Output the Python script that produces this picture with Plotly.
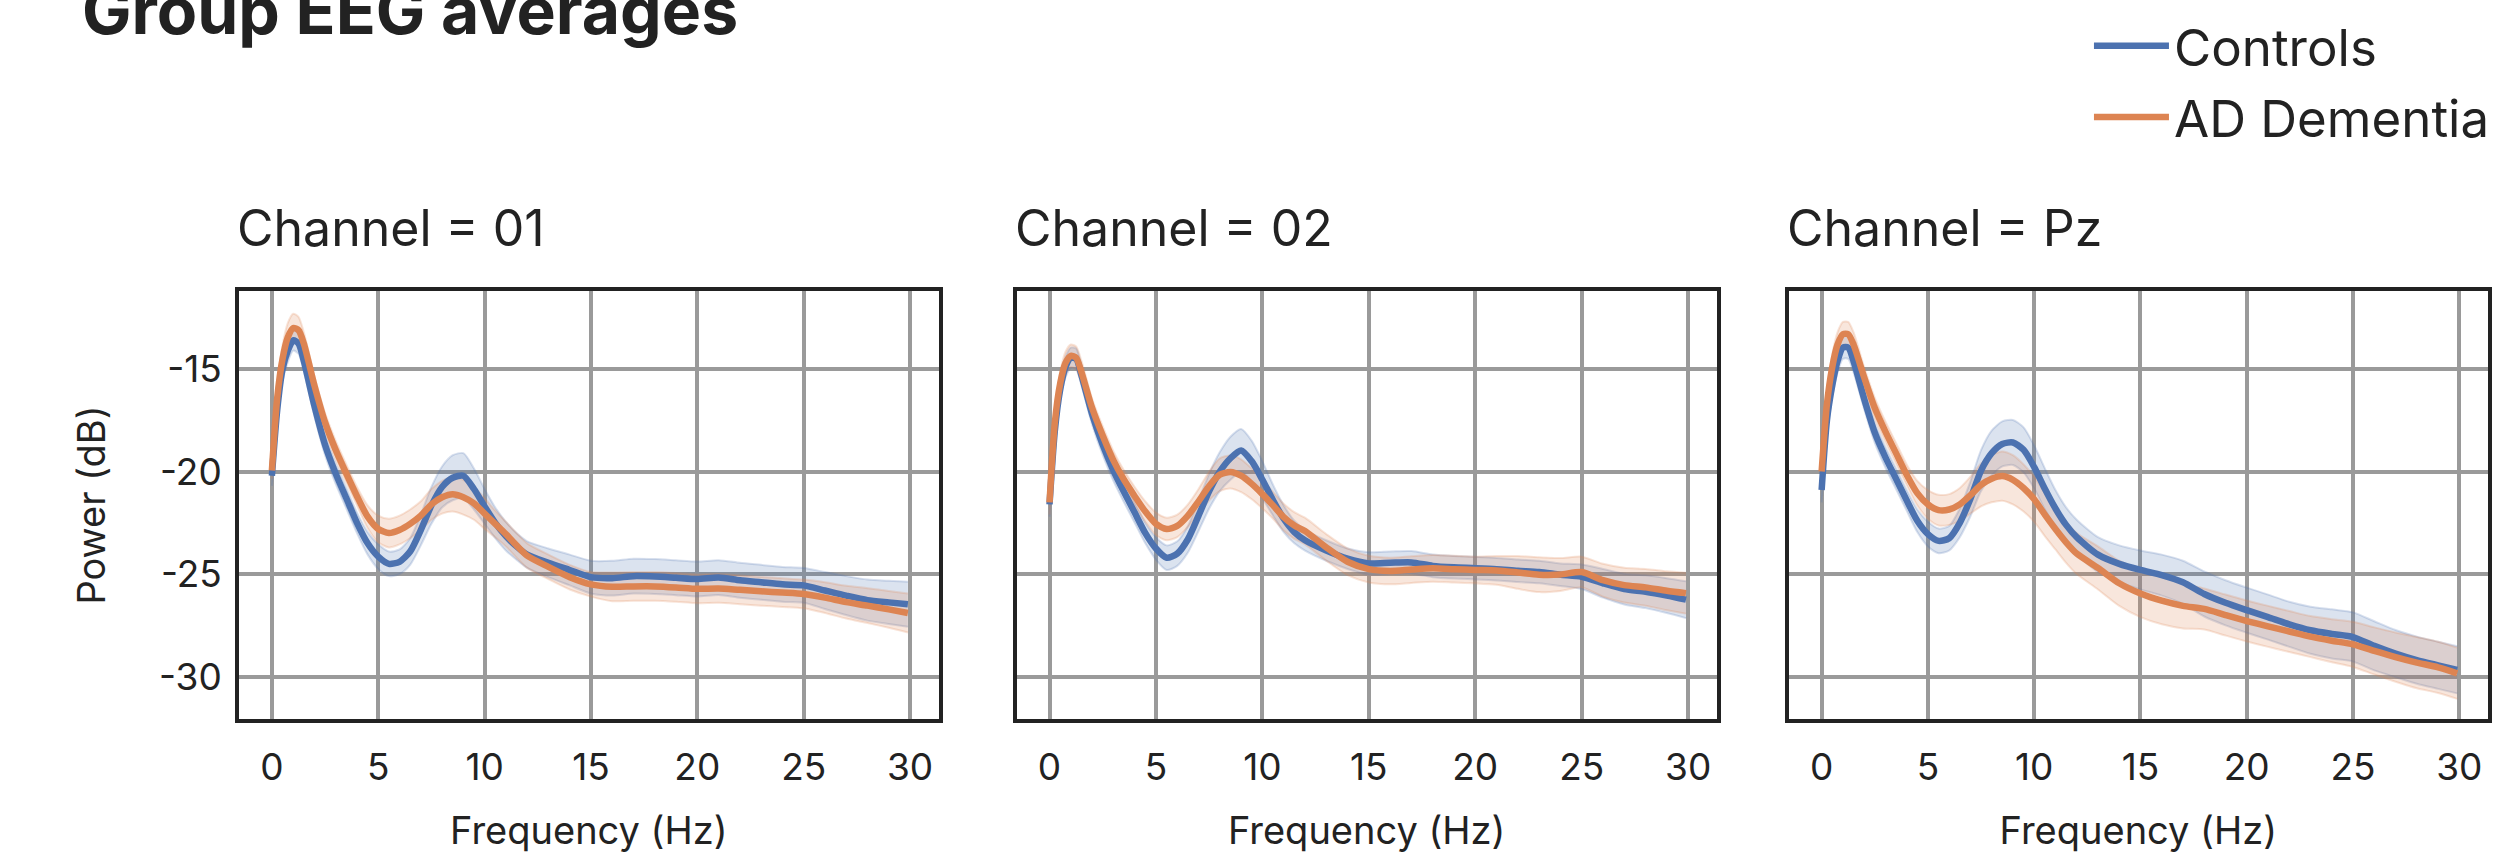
import plotly.graph_objects as go

# ---------------- data ----------------
FREQ = [0, 0.25, 0.5, 0.75, 1.0, 1.25, 1.5,
        2, 2.5, 3, 3.5, 4, 4.5, 5, 5.5, 6, 6.5, 7, 7.5, 8, 8.5, 9, 9.5, 10, 10.5, 11, 11.5, 12,
        13, 14, 15, 16, 17, 18, 19, 20, 21, 22, 23, 24, 25, 26, 27, 28, 29,
        29.9]

CHANNELS = ["01", "02", "Pz"]
GROUPS = ["Controls", "AD Dementia"]
X_TICKS = [0, 5, 10, 15, 20, 25, 30]
X_TICK_LABELS = ["0", "5", "10", "15", "20", "25", "30"]
Y_TICKS = [-30, -25, -20, -15]
Y_TICK_LABELS = ["-30", "-25", "-20", "-15"]

# Channel 01
CTRL_01 = [-20.2, -17.0, -15.0, -14.1, -13.6, -13.75, -14.6,
           -16.8, -18.7, -20.1, -21.3, -22.5, -23.5, -24.15, -24.5, -24.4, -23.9, -22.85, -21.65, -20.75, -20.3, -20.2, -20.85, -21.7, -22.5, -23.15, -23.65, -24.05,
           -24.45, -24.8, -25.15, -25.2, -25.1, -25.12, -25.18, -25.24, -25.17, -25.3, -25.4, -25.5, -25.55, -25.8, -26.05, -26.27, -26.38,
           -26.47]
CTRL_01_CI = [0.5, 0.6, 0.6, 0.55, 0.5, 0.5, 0.5,
              0.5, 0.5, 0.5, 0.5, 0.5, 0.55, 0.6, 0.6, 0.6, 0.65, 0.75, 0.9, 1.0, 1.1, 1.1, 1.0, 0.85, 0.75, 0.7, 0.65, 0.65,
              0.7, 0.75, 0.8, 0.85, 0.85, 0.85, 0.85, 0.85, 0.85, 0.85, 0.85, 0.85, 0.85, 0.9, 0.95, 1.0, 1.05,
              1.1]
AD_01 = [-19.95, -16.4, -14.5, -13.45, -13.0, -13.1, -13.75,
         -15.8, -17.6, -18.95, -20.1, -21.2, -22.2, -22.8, -23.0, -22.85, -22.55, -22.15, -21.6, -21.25, -21.1, -21.25, -21.55, -22.05, -22.55, -23.05, -23.6, -24.1,
         -24.65, -25.15, -25.5, -25.62, -25.6, -25.6, -25.65, -25.72, -25.7, -25.77, -25.84, -25.9, -25.97, -26.15, -26.37, -26.54, -26.72,
         -26.9]
AD_01_CI = [0.4, 0.6, 0.65, 0.7, 0.7, 0.65, 0.55,
            0.45, 0.45, 0.45, 0.45, 0.45, 0.55, 0.65, 0.7, 0.7, 0.7, 0.7, 0.75, 0.8, 0.85, 0.85, 0.8, 0.75, 0.65, 0.6, 0.6, 0.6,
            0.6, 0.6, 0.6, 0.7, 0.7, 0.7, 0.7, 0.7, 0.7, 0.7, 0.7, 0.7, 0.7, 0.75, 0.8, 0.85, 0.9,
            0.95]

# Channel 02
CTRL_02 = [-21.6, -18.0, -16.0, -14.9, -14.45, -14.5, -15.3,
           -17.2, -18.7, -19.95, -21.0, -22.0, -23.0, -23.75, -24.2, -24.0, -23.3, -22.15, -20.95, -20.0, -19.35, -18.97, -19.5, -20.4, -21.4, -22.3, -22.95, -23.35,
           -23.85, -24.25, -24.48, -24.45, -24.43, -24.6, -24.67, -24.71, -24.76, -24.84, -24.9, -25.03, -25.13, -25.45, -25.73, -25.86, -26.05,
           -26.25]
CTRL_02_CI = [0.6, 0.6, 0.5, 0.5, 0.5, 0.5, 0.5,
              0.5, 0.5, 0.5, 0.5, 0.5, 0.5, 0.55, 0.6, 0.6, 0.65, 0.75, 0.85, 0.95, 1.05, 1.05, 1.0, 0.9, 0.75, 0.65, 0.55, 0.5,
              0.5, 0.5, 0.55, 0.55, 0.55, 0.55, 0.55, 0.55, 0.55, 0.55, 0.55, 0.55, 0.6, 0.7, 0.75, 0.8, 0.85,
              0.9]
AD_02 = [-21.5, -17.6, -15.7, -14.7, -14.35, -14.45, -15.15,
         -16.9, -18.25, -19.45, -20.4, -21.2, -21.95, -22.55, -22.8, -22.65, -22.15, -21.45, -20.7, -20.15, -20.02, -20.2, -20.6, -21.1, -21.65, -22.22, -22.63, -22.9,
         -23.7, -24.4, -24.76, -24.85, -24.78, -24.72, -24.76, -24.8, -24.82, -24.92, -25.03, -25.02, -24.9, -25.3, -25.54, -25.65, -25.81,
         -25.93]
AD_02_CI = [0.6, 0.55, 0.55, 0.55, 0.55, 0.55, 0.55,
            0.45, 0.45, 0.45, 0.45, 0.45, 0.5, 0.55, 0.55, 0.55, 0.55, 0.6, 0.7, 0.8, 0.8, 0.8, 0.75, 0.7, 0.65, 0.65, 0.65, 0.65,
            0.65, 0.65, 0.65, 0.65, 0.65, 0.65, 0.65, 0.65, 0.7, 0.8, 0.85, 0.8, 0.75, 0.8, 0.85, 0.9, 0.95,
            1.0]

# Channel Pz
CTRL_PZ = [-20.9, -17.5, -15.8, -14.6, -13.95, -13.95, -14.6,
           -16.45, -18.1, -19.3, -20.35, -21.4, -22.4, -23.05, -23.38, -23.25, -22.5, -21.33, -19.95, -19.1, -18.65, -18.58, -18.94, -19.78, -20.84, -21.8, -22.6, -23.2,
           -24.05, -24.5, -24.8, -25.05, -25.4, -25.97, -26.4, -26.76, -27.1, -27.45, -27.74, -27.92, -28.07, -28.5, -28.88, -29.2, -29.45,
           -29.67]
CTRL_PZ_CI = [0.6, 0.55, 0.55, 0.55, 0.55, 0.55, 0.55,
              0.5, 0.5, 0.5, 0.5, 0.5, 0.55, 0.6, 0.6, 0.6, 0.7, 0.85, 1.0, 1.1, 1.1, 1.1, 1.1, 1.05, 1.0, 0.9, 0.85, 0.85,
              0.85, 0.9, 0.95, 1.0, 1.05, 1.1, 1.1, 1.1, 1.1, 1.1, 1.15, 1.2, 1.2, 1.2, 1.15, 1.15, 1.15,
              1.15]
AD_PZ = [-20.0, -16.7, -14.9, -13.8, -13.3, -13.3, -13.8,
         -15.4, -16.9, -18.05, -19.1, -20.15, -21.05, -21.6, -21.88, -21.85, -21.6, -21.15, -20.65, -20.35, -20.22, -20.4, -20.8, -21.35, -22.1, -22.8, -23.45, -24.0,
         -24.7, -25.45, -25.95, -26.3, -26.55, -26.7, -27.0, -27.29, -27.55, -27.8, -28.05, -28.25, -28.43, -28.75, -29.05, -29.32, -29.55,
         -29.84]
AD_PZ_CI = [0.5, 0.6, 0.6, 0.6, 0.6, 0.6, 0.6,
            0.5, 0.5, 0.5, 0.5, 0.5, 0.6, 0.7, 0.75, 0.75, 0.8, 0.9, 1.05, 1.15, 1.2, 1.2, 1.15, 1.1, 1.05, 1.0, 1.0, 1.0,
            1.05, 1.1, 1.15, 1.15, 1.1, 1.0, 1.0, 1.0, 1.0, 1.0, 1.0, 1.05, 1.1, 1.15, 1.2, 1.25, 1.25,
            1.25]

CTRL_SERIES = [CTRL_01, CTRL_02, CTRL_PZ]
CTRL_CI = [CTRL_01_CI, CTRL_02_CI, CTRL_PZ_CI]
AD_SERIES = [AD_01, AD_02, AD_PZ]
AD_CI = [AD_01_CI, AD_02_CI, AD_PZ_CI]

# ---------------- style ----------------
FONT = "Inter, Lato, sans-serif"
TEXT = "#222222"
COLORS = ["#4C72B0", "#DD8452"]
FILLS = ["rgba(76,114,176,0.2)", "rgba(221,132,82,0.2)"]
EDGES = ["rgba(76,114,176,0.22)", "rgba(221,132,82,0.22)"]
GRID = "#9a9a9a"
W, H = 2495, 866
X_DOMAINS = [(239.5, 941), (1019, 1721), (1793, 2494)]
Y_DOMAIN = (1 - 719 / H, 1 - 291 / H)
SPL = dict(shape="spline", smoothing=0.7)

fig = go.Figure()

for i in range(3):
    sfx = "" if i == 0 else str(i + 1)
    xa, ya = "x" + sfx, "y" + sfx
    groups = [(CTRL_SERIES[i], CTRL_CI[i]), (AD_SERIES[i], AD_CI[i])]
    # confidence bands
    for g, (mean, ci) in enumerate(groups):
        upper = [m + c for m, c in zip(mean, ci)]
        lower = [m - c for m, c in zip(mean, ci)]
        fig.add_trace(go.Scatter(x=FREQ, y=upper, xaxis=xa, yaxis=ya, mode="lines",
                                 line=dict(color=EDGES[g], width=2, **SPL),
                                 hoverinfo="skip", showlegend=False))
        fig.add_trace(go.Scatter(x=FREQ, y=lower, xaxis=xa, yaxis=ya, mode="lines",
                                 line=dict(color=EDGES[g], width=2, **SPL),
                                 fill="tonexty", fillcolor=FILLS[g],
                                 hoverinfo="skip", showlegend=False))
    # mean lines
    for g, (mean, ci) in enumerate(groups):
        fig.add_trace(go.Scatter(x=FREQ, y=mean, xaxis=xa, yaxis=ya, mode="lines",
                                 name=GROUPS[g], legendgroup=GROUPS[g],
                                 line=dict(color=COLORS[g], width=6.5, **SPL),
                                 showlegend=(i == 0)))

layout_axes = {}
for i in range(3):
    sfx = "" if i == 0 else str(i + 1)
    x0, x1 = X_DOMAINS[i]
    layout_axes["xaxis" + sfx] = dict(
        domain=[x0 / W, x1 / W], anchor="y" + sfx, range=[-1.55, 31.35],
        tickvals=X_TICKS, ticktext=X_TICK_LABELS, ticks="", ticklabelstandoff=13,
        tickfont=dict(family=FONT, size=37, color=TEXT),
        showgrid=True, gridcolor=GRID, gridwidth=3.5, zeroline=False,
        showline=True, linecolor=TEXT, linewidth=3.5, mirror=True,
        title=dict(text="Frequency (Hz)", font=dict(family=FONT, size=38, color=TEXT), standoff=30),
    )
    layout_axes["yaxis" + sfx] = dict(
        domain=list(Y_DOMAIN), anchor="x" + sfx, range=[-32.07, -11.19],
        tickvals=Y_TICKS, ticktext=Y_TICK_LABELS, ticks="", ticklabelstandoff=6,
        showticklabels=(i == 0),
        tickfont=dict(family=FONT, size=37, color=TEXT),
        showgrid=True, gridcolor=GRID, gridwidth=3.5, zeroline=False,
        showline=True, linecolor=TEXT, linewidth=3.5, mirror=True,
        title=dict(text="Power (dB)" if i == 0 else "", font=dict(family=FONT, size=38, color=TEXT), standoff=43),
    )

annotations = [dict(text="<b>Group EEG averages</b>", x=80 / W, y=1 - 10 / H, xref="paper", yref="paper",
                    xanchor="left", yanchor="middle", showarrow=False,
                    font=dict(family=FONT, size=66, color=TEXT))]
for i, ch in enumerate(CHANNELS):
    annotations.append(dict(text=f"Channel = {ch}", x=(X_DOMAINS[i][0] - 4) / W, y=1 - 228 / H,
                            xref="paper", yref="paper", xanchor="left", yanchor="middle",
                            showarrow=False, font=dict(family=FONT, size=50, color=TEXT)))

fig.update_layout(
    width=W, height=H, margin=dict(l=0, r=0, t=0, b=0),
    paper_bgcolor="white", plot_bgcolor="white",
    font=dict(family=FONT, color=TEXT),
    showlegend=True,
    legend=dict(x=2094 / W, y=1 - 6 / H, xanchor="left", yanchor="top",
                font=dict(family=FONT, size=51, color=TEXT), tracegroupgap=2,
                bgcolor="rgba(0,0,0,0)", itemwidth=75),
    annotations=annotations,
    **layout_axes,
)

fig.write_html("out.html", config={"displayModeBar": False},
               post_script="document.body.style.margin='0';document.body.style.overflow='hidden';")
